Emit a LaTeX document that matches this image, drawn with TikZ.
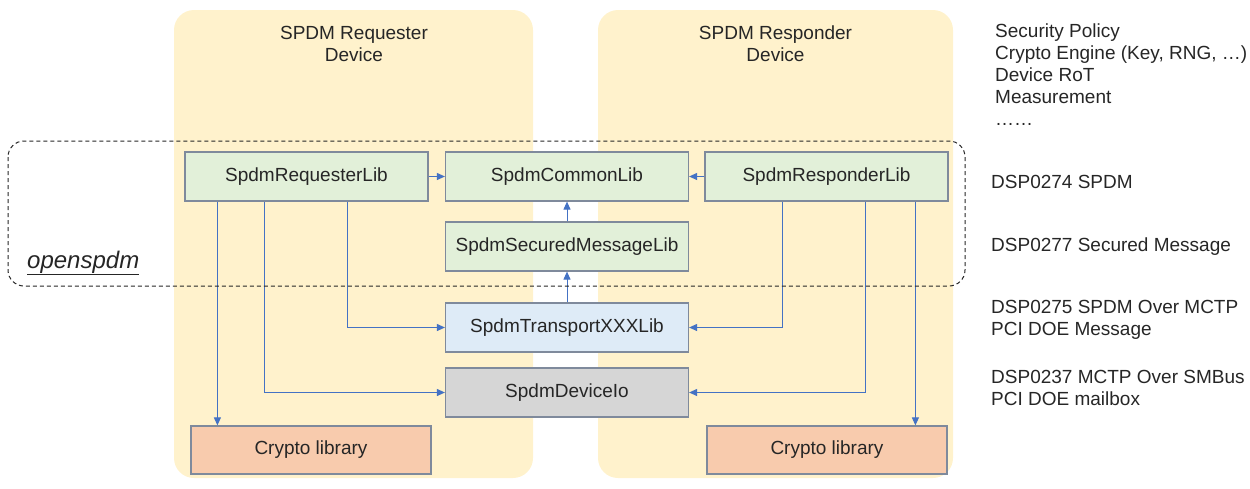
\documentclass[tikz,border=0pt]{standalone}
\usepackage{fontspec}
\setmainfont{Liberation Sans}
\usetikzlibrary{arrows.meta}
\usetikzlibrary{positioning}
\definecolor{mpanel}{HTML}{FFF2CC}
\definecolor{mgreen}{HTML}{E2F0D9}
\definecolor{mblue}{HTML}{DEEBF7}
\definecolor{mgray}{HTML}{D6D6D6}
\definecolor{msalmon}{HTML}{F8CBAD}
\definecolor{mline}{HTML}{4472C4}
\definecolor{mborder}{HTML}{7F8A9C}
\definecolor{mtext}{HTML}{262626}
\tikzset{lib/.style = {draw=mborder, line width=1.2pt, minimum width=243pt, minimum height=49pt,
    inner sep=0, text=mtext, font=\fontsize{19}{22}\selectfont}}
\tikzset{link/.style = {mline, line width=1pt, -{Triangle[length=8pt, width=7pt]}}}
\tikzset{note/.style = {anchor=west, align=left, inner sep=0, text=mtext, font=\fontsize{19}{22}\selectfont}}

\begin{document}
\begin{tikzpicture}[x=1pt, y=-1pt]
      \useasboundingbox (0, 0) rectangle (1250, 488);
      \fill [mpanel, rounded corners=20] (174, 10) rectangle (533, 478);
      \fill [mpanel, rounded corners=20] (598, 10) rectangle (953, 478);
      \node [note, anchor=center, align=center] (reqdev) at (354, 44) {SPDM Requester\\Device};
      \node [note, anchor=center, align=center] (respdev) at (775.5, 44) {SPDM Responder\\Device};

      \node [note, font=\fontsize{24}{28}\selectfont\itshape] (open) at (27, 263) {\underline{openspdm}};

      \node [lib, fill=mgreen] (req) at (306.5, 176.5) {SpdmRequesterLib};
      \node [lib, fill=mgreen] (common) at (567, 176.5) {SpdmCommonLib};
      \node [lib, fill=mgreen] (resp) at (826.5, 176.5) {SpdmResponderLib};
      \node [lib, fill=mgreen] (sec) at (567, 246.5) {SpdmSecuredMessageLib};
      \node [lib, fill=mblue] (trans) at (567, 327.5) {SpdmTransportXXXLib};
      \node [lib, fill=mgray] (io) at (567, 392.5) {SpdmDeviceIo};
      \node [lib, fill=msalmon, minimum width=240pt, minimum height=48pt] (cryptoL) at (311, 450) {Crypto library};
      \node [lib, fill=msalmon, minimum width=240pt, minimum height=48pt] (cryptoR) at (827, 450) {Crypto library};

      \draw [link] (req) -- (common);
      \draw [link] (resp) -- (common);
      \draw [link] (sec) -- (common);
      \draw [link] (trans) -- (sec);

      \draw [link] ([xshift=33pt]req.south west) -- ([xshift=33pt]req.south west |- cryptoL.north);
      \draw [link] ([xshift=80pt]req.south west) |- (io.west);
      \draw [link] ([xshift=163pt]req.south west) |- (trans.west);
      \draw [link] ([xshift=78pt]resp.south west) |- (trans.east);
      \draw [link] ([xshift=161pt]resp.south west) |- (io.east);
      \draw [link] ([xshift=211pt]resp.south west) -- ([xshift=211pt]resp.south west |- cryptoR.north);

      \draw [black!85, line width=1pt, dash pattern=on 4pt off 3pt, rounded corners=16] (8, 141) rectangle (965, 286);

      \node [note] (policy) at (995, 75) {Security Policy\\Crypto Engine (Key, RNG, …)\\Device RoT\\Measurement\\……};
      \node [note] (dsp74) at (991, 182) {DSP0274 SPDM};
      \node [note] (dsp77) at (991, 247) {DSP0277 Secured Message};
      \node [note] (dsp75) at (991, 319.5) {DSP0275 SPDM Over MCTP\\PCI DOE Message};
      \node [note] (dsp37) at (991, 388) {DSP0237 MCTP Over SMBus\\PCI DOE mailbox};

    \end{tikzpicture}
\end{document}
